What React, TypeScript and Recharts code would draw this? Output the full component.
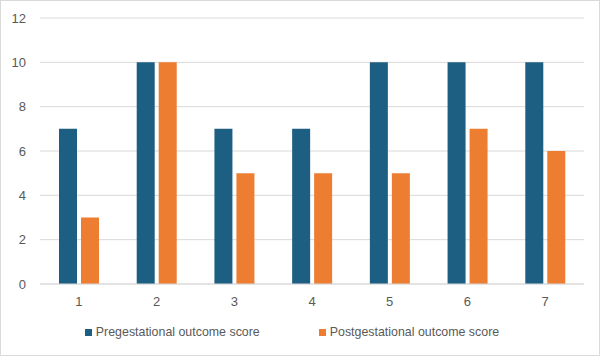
import React from 'react'
import { BarChart, Bar, CartesianGrid, XAxis, YAxis, Legend } from 'recharts'

const categories = ['1', '2', '3', '4', '5', '6', '7']
const pregestational = [7, 10, 7, 7, 10, 10, 10]
const postgestational = [3, 10, 5, 5, 5, 7, 6]
const yTicks = [0, 2, 4, 6, 8, 10, 12]

const BLUE = '#1C5F83'
const ORANGE = '#ED7D31'
const TEXT = '#595959'
const FONT = '"Liberation Sans", Arial, sans-serif'

const data = categories.map((name, i) => ({
  name,
  pre: pregestational[i],
  post: postgestational[i],
}))

const legendItems = [
  { label: 'Pregestational outcome score', color: BLUE },
  { label: 'Postgestational outcome score', color: ORANGE },
]

// legend drawn by hand so the squares and spacing match the original
const LegendContent = () => (
  <div
    style={{
      display: 'flex',
      justifyContent: 'center',
      gap: 59,
      paddingRight: 16,
      fontFamily: FONT,
      fontSize: 12.4,
      color: TEXT,
      lineHeight: '16px',
    }}
  >
    {legendItems.map((item) => (
      <div key={item.label} style={{ display: 'flex', alignItems: 'center' }}>
        <span style={{ width: 7, height: 7, background: item.color, marginRight: 4, display: 'inline-block' }} />
        <span>{item.label}</span>
      </div>
    ))}
  </div>
)

const App = () => {
  return (
    <div
      style={{
        position: 'absolute',
        left: 0,
        top: 0,
        width: 600,
        height: 356,
        boxSizing: 'border-box',
        border: '1px solid #d9d9d9',
        background: '#fff',
      }}
    >
      <BarChart
        width={598}
        height={354}
        data={data}
        barSize={18}
        barGap={4}
        margin={{ top: 17, right: 15, bottom: 41, left: 0 }}
      >
        <CartesianGrid vertical={false} stroke="#d9d9d9" />
        <XAxis
          dataKey="name"
          height={30}
          tickLine={false}
          axisLine={{ stroke: '#d9d9d9' }}
          tickMargin={7}
          tick={{ fill: TEXT, fontSize: 13, fontFamily: FONT }}
        />
        <YAxis
          width={39}
          domain={[0, 12]}
          ticks={yTicks}
          axisLine={false}
          tickLine={false}
          tickMargin={8}
          tick={{ fill: TEXT, fontSize: 13, fontFamily: FONT }}
        />
        <Legend
          verticalAlign="middle"
          align="center"
          layout="horizontal"
          wrapperStyle={{ top: 323, left: 0, width: 598 }}
          content={<LegendContent />}
        />
        <Bar dataKey="pre" name="Pregestational outcome score" fill={BLUE} isAnimationActive={false} />
        <Bar dataKey="post" name="Postgestational outcome score" fill={ORANGE} isAnimationActive={false} />
      </BarChart>
    </div>
  )
}

export default App
